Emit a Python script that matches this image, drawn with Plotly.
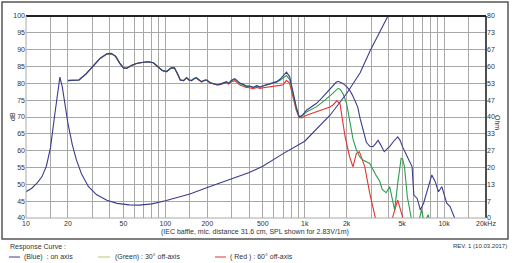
import math
import plotly.graph_objects as go

# ---------------- data ----------------
on_f = [20, 22, 24, 27, 30, 34, 38, 41, 44, 47, 50, 53, 57, 62, 68, 75, 82, 88, 95, 102, 110, 116, 122, 128,
        135, 142, 148, 154, 160, 167, 175, 182, 190, 198, 210, 220, 235, 246, 260, 274, 285, 298, 315, 330,
        345, 360, 380, 400, 428, 452, 480, 504, 530, 563, 600, 628, 665, 700, 740, 780, 826, 870, 914, 960,
        1030, 1120, 1210, 1320, 1420, 1520, 1590, 1680, 1740, 1800, 1890, 2000, 2100, 2200, 2290, 2400, 2500,
        2620, 2770, 2930, 3090, 3220, 3360, 3500, 3720, 3850, 4070, 4350, 4650, 4850, 5030, 5450, 5900, 6000,
        6070, 6410, 6760, 7130, 7740, 8170, 8640, 9120, 9640, 10450, 11050, 11700, 12300]
on_db = [80.8, 80.8, 81.0, 82.8, 85.0, 87.4, 88.8, 88.9, 88.0, 86.0, 84.6, 84.5, 85.3, 85.9, 86.2, 86.4, 86.1,
         85.0, 83.8, 83.5, 84.6, 84.7, 83.0, 81.0, 80.8, 81.7, 81.0, 80.8, 81.4, 81.7, 81.0, 80.5, 80.9, 81.0,
         80.2, 79.9, 79.6, 79.7, 80.2, 80.5, 80.0, 80.9, 81.4, 80.8, 80.0, 79.8, 79.2, 79.2, 78.8, 79.3, 78.9,
         79.3, 79.6, 79.9, 80.2, 80.5, 81.2, 82.2, 83.3, 82.0, 77.0, 73.0, 70.0, 70.5, 72.0, 73.0, 74.0, 75.5,
         77.0, 78.5, 79.4, 80.3, 80.6, 80.4, 79.9, 79.0, 78.0, 76.5, 75.0, 73.0, 69.5, 66.0, 62.5, 61.3, 61.2,
         62.0, 63.1, 61.8, 59.7, 60.3, 61.2, 62.8, 64.1, 63.0, 61.2, 58.2, 55.2, 50.0, 46.8, 45.8, 42.4, 44.4,
         49.3, 52.8, 50.8, 47.8, 49.3, 44.4, 43.4, 40.4, 38.5]

g30_f = [20, 22, 24, 27, 30, 34, 38, 41, 44, 47, 50, 53, 57, 62, 68, 75, 82, 88, 95, 102, 110, 116, 122, 128,
         135, 142, 148, 154, 160, 167, 175, 182, 190, 198, 210, 220, 235, 246, 260, 274, 285, 298, 315, 330,
         345, 360, 380, 400, 428, 452, 480, 504, 530, 563, 600, 628, 665, 700, 740, 780, 826, 870, 914, 960,
         1030, 1120, 1210, 1320, 1420, 1520, 1590, 1680, 1740, 1800, 1890, 2000, 2100, 2220, 2350, 2480, 2620,
         2930, 3270, 3450, 3600, 3840, 4070, 4250, 4420, 4650, 4920, 5050, 5200, 5450, 5760, 6000, 6500, 6900,
         7200, 7700, 8000]
g30_db = [80.8, 80.8, 81.0, 82.8, 85.0, 87.4, 88.7, 88.8, 88.0, 86.0, 84.6, 84.5, 85.3, 85.9, 86.2, 86.4, 86.1,
          85.0, 83.8, 83.5, 84.5, 84.6, 83.0, 81.0, 80.8, 81.6, 81.0, 80.8, 81.4, 81.6, 81.0, 80.5, 80.9, 81.0,
          80.2, 79.9, 79.6, 79.8, 80.2, 80.4, 80.0, 80.8, 81.2, 80.6, 79.8, 79.6, 79.1, 79.1, 78.8, 79.2, 78.9,
          79.2, 79.5, 79.8, 80.1, 80.3, 80.9, 81.6, 82.3, 81.2, 76.5, 72.6, 70.0, 70.3, 71.5, 72.2, 73.0, 74.2,
          75.2, 76.3, 77.0, 78.0, 78.5, 78.2, 76.8, 74.0, 69.0, 63.5, 60.2, 58.2, 57.2, 56.2, 52.5, 51.0, 48.5,
          47.5, 49.3, 46.0, 42.4, 50.3, 57.7, 57.5, 55.2, 46.3, 40.4, 37.0, 38.0, 42.5, 38.5, 41.0, 37.0]

r60_f = [20, 22, 24, 27, 30, 34, 38, 41, 44, 47, 50, 53, 57, 62, 68, 75, 82, 88, 95, 102, 110, 116, 122, 128,
         135, 142, 148, 154, 160, 167, 175, 182, 190, 198, 210, 220, 235, 246, 260, 274, 285, 298, 315, 330,
         345, 360, 380, 400, 428, 452, 480, 504, 530, 563, 600, 628, 665, 700, 740, 780, 826, 870, 914, 960,
         1030, 1120, 1210, 1320, 1420, 1520, 1590, 1700, 1790, 1870, 1950, 2100, 2220, 2350, 2470, 2700, 2930,
         3200, 3300, 4200, 4290, 4650, 5030, 5200]
r60_db = [80.9, 80.9, 81.0, 82.8, 85.0, 87.4, 88.7, 88.8, 88.0, 86.0, 84.6, 84.5, 85.3, 85.9, 86.2, 86.4, 86.1,
          85.0, 83.8, 83.5, 84.5, 84.6, 83.0, 81.0, 80.8, 81.6, 81.0, 80.8, 81.3, 81.5, 80.9, 80.4, 80.8, 80.9,
          80.1, 79.8, 79.5, 79.6, 80.0, 80.2, 79.8, 80.5, 80.8, 80.2, 79.4, 79.2, 78.8, 78.7, 78.4, 78.8, 78.5,
          78.7, 78.8, 78.9, 79.0, 79.2, 79.4, 79.6, 80.9, 80.0, 75.5, 72.0, 69.8, 69.8, 70.5, 71.0, 71.5, 72.0,
          72.5, 73.0, 73.5, 74.8, 74.0, 69.5, 64.1, 58.2, 55.2, 59.2, 59.7, 55.2, 47.3, 40.4, 37.5, 37.0, 40.4,
          45.3, 40.4, 37.0]

imp_f = [10, 11, 12, 13, 14, 15, 16, 16.8, 17.5, 18.2, 19, 20, 21.5, 23, 25, 28, 32, 38, 45, 55, 65, 80, 100,
         150, 200, 300, 400, 500, 700, 1000, 1300, 1520, 2000, 2500, 2960, 3500, 3980, 4500]
imp_ohm = [10.4, 11.8, 13.8, 16.3, 20.5, 28.0, 40.0, 50.0, 55.8, 52.0, 45.0, 37.5, 29.0, 23.0, 17.5, 12.5, 9.3,
           7.0, 5.8, 5.2, 5.1, 5.6, 6.8, 9.5, 12.1, 15.5, 18.0, 20.5, 25.5, 30.4, 36.7, 40.7, 49.3, 57.5, 66.4,
           74.0, 79.6, 86.0]

grid_freqs = [10, 15, 20, 30, 40, 50, 60, 70, 80, 90, 100, 150, 200, 300, 400, 500, 600, 700, 800, 900,
              1000, 1500, 2000, 3000, 4000, 5000, 6000, 7000, 8000, 9000, 10000, 15000, 20000]
freq_labels = {10: "10", 20: "20", 50: "50", 100: "100", 200: "200", 500: "500", 1000: "1k",
               2000: "2k", 5000: "5k", 10000: "10k", 20000: "20kHz"}
db_ticks = list(range(40, 101, 5))
ohm_labels = ["0", "7", "13", "20", "27", "33", "40", "47", "53", "60", "67", "73", "80"]

# ---------------- figure ----------------
W, H = 512, 263
L, R, T, B = 26, 486, 16, 218

def px(x):
    return (x - L) / (R - L)

def py(y):
    return (B - y) / (B - T)

BLUE = "#3c3c8e"
GREEN = "#2f9e4c"
RED = "#e5322e"

fig = go.Figure()
fig.add_trace(go.Scatter(x=r60_f, y=r60_db, mode="lines", line=dict(color=RED, width=1.1), showlegend=False))
fig.add_trace(go.Scatter(x=g30_f, y=g30_db, mode="lines", line=dict(color=GREEN, width=1.1), showlegend=False))
fig.add_trace(go.Scatter(x=on_f, y=on_db, mode="lines", line=dict(color=BLUE, width=1.1), showlegend=False))
fig.add_trace(go.Scatter(x=imp_f, y=imp_ohm, mode="lines", line=dict(color=BLUE, width=1.1),
                         yaxis="y2", showlegend=False))

tickfont = dict(family="Liberation Sans", size=7, color="#333333")
fig.update_layout(
    width=W, height=H,
    margin=dict(l=L, r=W - R, t=T, b=H - B, pad=0),
    paper_bgcolor="white", plot_bgcolor="white",
    font=dict(family="Liberation Sans", size=7, color="#333333"),
    xaxis=dict(type="log", range=[1, math.log10(20000)],
               tickvals=grid_freqs, ticktext=[freq_labels.get(f, "") for f in grid_freqs],
               showgrid=True, gridcolor="#a8a8a8", gridwidth=1, zeroline=False,
               showline=False, ticks="", tickfont=tickfont),
    yaxis=dict(range=[40, 100], tickvals=db_ticks, ticktext=[str(v) for v in db_ticks],
               showgrid=True, gridcolor="#a8a8a8", gridwidth=1, zeroline=False,
               showline=False, ticks="", tickfont=tickfont),
    yaxis2=dict(range=[0, 80], overlaying="y", side="right",
                tickvals=[i * 80 / 12 for i in range(13)], ticktext=ohm_labels,
                showgrid=False, zeroline=False, showline=False, ticks="", tickfont=tickfont),
)

shapes = [
    # outer frame
    dict(type="rect", xref="paper", yref="paper", x0=px(2), x1=px(508), y0=py(239), y1=py(2),
         line=dict(color="#555555", width=1.5)),
    # plot box
    dict(type="line", xref="paper", yref="paper", x0=0, x1=1, y0=1, y1=1, line=dict(color="#222222", width=2)),
    dict(type="line", xref="paper", yref="paper", x0=1, x1=1, y0=0, y1=1, line=dict(color="#222222", width=1.6)),
    dict(type="line", xref="paper", yref="paper", x0=0, x1=0, y0=0, y1=1, line=dict(color="#a8a8a8", width=1)),
    dict(type="line", xref="paper", yref="paper", x0=0, x1=1, y0=0, y1=0, line=dict(color="#a8a8a8", width=1)),
    # legend lines
    dict(type="line", xref="paper", yref="paper", x0=px(9), x1=px(20), y0=py(257), y1=py(257),
         line=dict(color=BLUE, width=1)),
    dict(type="line", xref="paper", yref="paper", x0=px(98), x1=px(110), y0=py(257), y1=py(257),
         line=dict(color="#b8c86a", width=1)),
    dict(type="line", xref="paper", yref="paper", x0=px(215), x1=px(226), y0=py(257), y1=py(257),
         line=dict(color=RED, width=1)),
]
fig.update_layout(shapes=shapes)

def ann(text, x, y, xanchor="center", size=7, angle=0, color="#333333"):
    return dict(text=text, x=px(x), y=py(y), xref="paper", yref="paper", showarrow=False,
                xanchor=xanchor, yanchor="middle", textangle=angle,
                font=dict(family="Liberation Sans", size=size, color=color))

annotations = [
    ann("dB", 12, 117, angle=-90),
    ann("Ohm", 498, 122, angle=90),
    ann("(IEC baffle, mic. distance 31.6 cm, SPL shown for 2.83V/1m)", 255, 232),
    ann("Response Curve :", 8, 247, xanchor="left"),
    ann("(Blue)  : on axis", 22, 257, xanchor="left"),
    ann("(Green) : 30° off-axis", 113, 257, xanchor="left"),
    ann("( Red ) : 60° off-axis", 228, 257, xanchor="left"),
    ann("REV. 1 (10.03.2017)", 509, 246, xanchor="right", size=6),
]
fig.update_layout(annotations=annotations)

fig.write_html("out.html")
